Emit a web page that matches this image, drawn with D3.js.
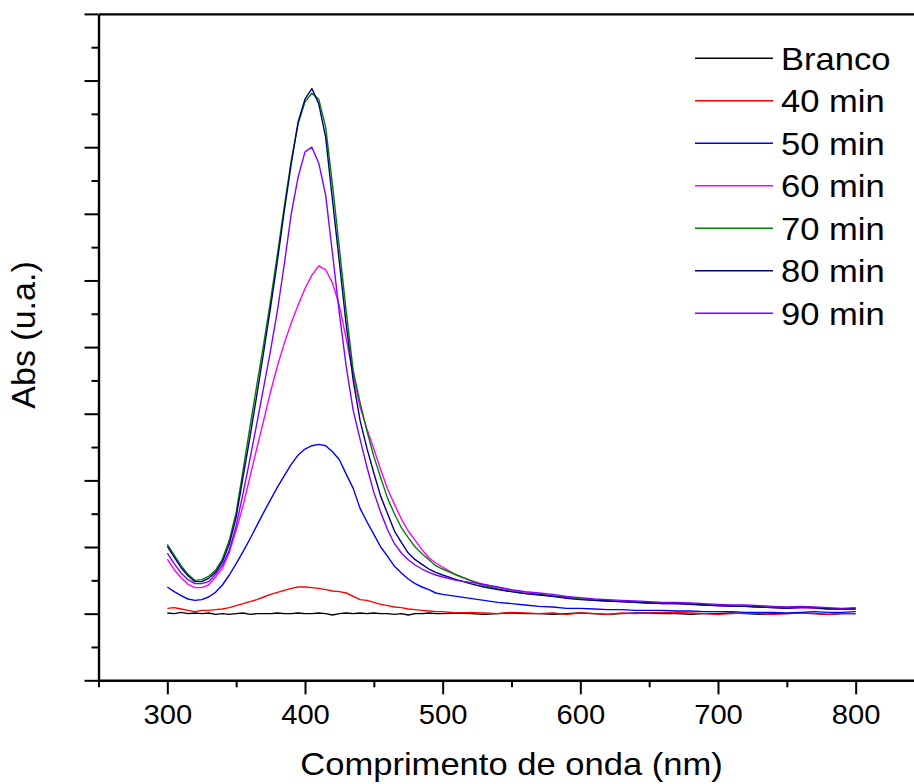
<!DOCTYPE html>
<html>
<head>
<meta charset="utf-8">
<script src="https://cdn.jsdelivr.net/npm/d3@7"></script>
<style>
  html, body { margin: 0; padding: 0; background: #fff; overflow: hidden; }
  svg { display: block; }
</style>
</head>
<body>
<svg id="chart" width="914" height="784"></svg>
<script>
// Wavelength grid (nm): 5 nm steps over the band, 10 nm steps in the flat tail
const wavelengths = [
  300,305,310,315,320,325,330,335,340,345,350,355,360,365,370,375,380,385,390,395,
  400,405,410,415,420,425,430,435,440,445,450,455,460,465,470,475,480,485,490,495,500,
  510,520,530,540,550,560,570,580,590,600,610,620,630,640,650,660,670,680,690,700,
  710,720,730,740,750,760,770,780,790,800
];

// Absorbance of each sample (arbitrary units)
const branco = [
  0.001,0.000,0.002,0.000,0.001,0.000,0.001,-0.001,0.000,-0.001,0.000,0.001,-0.001,0.000,0.000,0.000,0.001,0.000,0.000,0.001,
  0.000,0.000,0.001,0.000,-0.002,0.000,0.001,0.000,0.001,0.000,0.001,0.000,0.000,-0.001,0.000,-0.002,0.000,0.000,0.001,0.000,0.000,
  0.001,0.000,-0.001,0.000,0.001,0.000,0.000,-0.001,0.000,0.001,0.000,-0.001,0.000,0.001,0.001,0.000,0.000,-0.001,0.000,0.000,
  0.001,0.000,-0.001,0.000,0.000,0.001,0.000,-0.001,0.000,0.000
];
const min40 = [
  0.008,0.009,0.007,0.005,0.003,0.005,0.005,0.006,0.007,0.009,0.012,0.015,0.018,0.021,0.025,0.029,0.032,0.035,0.038,0.040,
  0.040,0.039,0.038,0.036,0.034,0.033,0.031,0.026,0.021,0.020,0.017,0.014,0.012,0.010,0.009,0.007,0.006,0.005,0.004,0.003,0.003,
  0.001,0.002,0.001,0.000,0.002,0.001,0.000,0.001,-0.001,0.001,0.000,-0.001,0.001,0.000,0.001,0.002,0.002,0.001,0.000,-0.001,
  0.000,0.001,0.000,-0.001,0.000,0.001,0.000,-0.001,0.000,0.000
];
const min50 = [
  0.040,0.033,0.027,0.022,0.020,0.021,0.025,0.032,0.043,0.058,0.075,0.093,0.112,0.132,0.152,0.171,0.190,0.207,0.224,0.238,
  0.247,0.252,0.254,0.252,0.243,0.231,0.209,0.188,0.158,0.138,0.119,0.100,0.086,0.071,0.061,0.052,0.045,0.040,0.036,0.031,0.029,
  0.026,0.023,0.020,0.017,0.015,0.013,0.011,0.010,0.008,0.008,0.007,0.006,0.006,0.005,0.005,0.005,0.004,0.004,0.003,0.003,
  0.003,0.002,0.002,0.002,0.001,0.002,0.003,0.002,0.002,0.003
];
const min60 = [
  0.082,0.066,0.054,0.044,0.039,0.039,0.043,0.055,0.068,0.092,0.125,0.162,0.205,0.248,0.290,0.333,0.372,0.406,0.436,0.463,
  0.488,0.508,0.522,0.516,0.496,0.462,0.412,0.358,0.310,0.277,0.247,0.216,0.187,0.164,0.142,0.124,0.110,0.096,0.084,0.076,0.070,
  0.058,0.050,0.044,0.039,0.035,0.032,0.029,0.027,0.025,0.022,0.021,0.019,0.018,0.017,0.016,0.015,0.015,0.014,0.013,0.012,
  0.011,0.011,0.010,0.009,0.008,0.009,0.008,0.007,0.007,0.007
];
const min70 = [
  0.104,0.088,0.072,0.059,0.050,0.051,0.056,0.065,0.082,0.110,0.152,0.215,0.280,0.343,0.405,0.470,0.540,0.612,0.680,0.735,
  0.768,0.781,0.772,0.730,0.643,0.548,0.452,0.365,0.317,0.274,0.236,0.204,0.173,0.150,0.129,0.114,0.100,0.090,0.081,0.072,0.067,
  0.058,0.050,0.042,0.037,0.033,0.030,0.029,0.026,0.024,0.022,0.020,0.019,0.018,0.017,0.016,0.016,0.015,0.015,0.013,0.012,
  0.012,0.011,0.010,0.009,0.009,0.010,0.009,0.008,0.007,0.008
];
const min80 = [
  0.101,0.085,0.069,0.057,0.048,0.048,0.053,0.062,0.078,0.104,0.145,0.205,0.265,0.328,0.393,0.460,0.530,0.605,0.675,0.738,
  0.772,0.788,0.765,0.715,0.620,0.527,0.432,0.350,0.290,0.248,0.211,0.176,0.150,0.124,0.107,0.091,0.081,0.074,0.067,0.062,0.058,
  0.051,0.045,0.040,0.036,0.033,0.030,0.028,0.026,0.023,0.021,0.020,0.019,0.018,0.017,0.016,0.015,0.015,0.014,0.013,0.012,
  0.011,0.011,0.010,0.009,0.008,0.009,0.009,0.007,0.007,0.007
];
const min90 = [
  0.091,0.075,0.061,0.051,0.045,0.045,0.048,0.059,0.073,0.095,0.132,0.180,0.232,0.285,0.340,0.395,0.455,0.525,0.600,0.655,
  0.693,0.700,0.676,0.628,0.540,0.450,0.370,0.305,0.262,0.220,0.182,0.152,0.126,0.105,0.091,0.081,0.073,0.067,0.062,0.058,0.055,
  0.050,0.047,0.044,0.040,0.036,0.033,0.031,0.029,0.026,0.024,0.022,0.021,0.020,0.019,0.018,0.017,0.017,0.016,0.015,0.014,
  0.013,0.013,0.012,0.011,0.010,0.011,0.010,0.009,0.008,0.009
];

const seriesNames  = ["Branco", "40 min", "50 min", "60 min", "70 min", "80 min", "90 min"];
const seriesValues = [branco, min40, min50, min60, min70, min80, min90];
const seriesColors = ["#000000", "#ff0000", "#0000ff", "#ff00ff", "#008000", "#000080", "#8000ff"];

// Axis ticks
const xMajorTicks = [300, 400, 500, 600, 700, 800];
const xMinorTicks = [250, 350, 450, 550, 650, 750, 850];
const yMajorTicks = [-0.1, 0, 0.1, 0.2, 0.3, 0.4, 0.5, 0.6, 0.7, 0.8, 0.9];
const yMinorTicks = [-0.05, 0.05, 0.15, 0.25, 0.35, 0.45, 0.55, 0.65, 0.75, 0.85];

const xTitle = "Comprimento de onda (nm)";
const yTitle = "Abs (u.a.)";

// ---- layout ----
const FONT = "'Liberation Sans', Arial, Helvetica, sans-serif";
const WIDEN = 1.08;   // slightly wide lettering

const x = d3.scaleLinear().domain([250, 850]).range([98.5, 924.5]);
const y = d3.scaleLinear().domain([-0.1, 0.9]).range([680.3, 13.9]);

const svg = d3.select("#chart");
svg.append("rect").attr("width", 914).attr("height", 784).attr("fill", "#fff");

function styleAxis(g, domainWidth) {
  g.selectAll(".tick line").attr("stroke", "#000").attr("stroke-width", 2);
  g.select(".domain").attr("stroke", "#000").attr("stroke-width", domainWidth);
}

// Left axis: major and minor ticks, no labels
const gyMajor = svg.append("g")
  .attr("transform", `translate(${x(250)},0)`)
  .call(d3.axisLeft(y).tickValues(yMajorTicks).tickSize(14).tickSizeOuter(0).tickFormat(""));
styleAxis(gyMajor, 2.4);
const gyMinor = svg.append("g")
  .attr("transform", `translate(${x(250)},0)`)
  .call(d3.axisLeft(y).tickValues(yMinorTicks).tickSize(7).tickSizeOuter(0).tickFormat(""));
gyMinor.select(".domain").remove();
styleAxis(gyMinor, 0);

// Top border
const gTop = svg.append("g")
  .attr("transform", `translate(0,${y(0.9)})`)
  .call(d3.axisTop(x).tickValues([]).tickSizeOuter(0));
styleAxis(gTop, 2.4);

// Bottom axis
const gxMajor = svg.append("g")
  .attr("transform", `translate(0,${y(-0.1)})`)
  .call(d3.axisBottom(x).tickValues(xMajorTicks).tickSize(14).tickSizeOuter(0).tickFormat(d3.format("d")));
styleAxis(gxMajor, 2.4);
gxMajor.selectAll(".tick text")
  .attr("y", 724 - y(-0.1))
  .attr("dy", null)
  .attr("transform", `scale(${WIDEN},1)`)
  .attr("fill", "#000")
  .style("font-family", FONT)
  .style("font-size", "27px");
const gxMinor = svg.append("g")
  .attr("transform", `translate(0,${y(-0.1)})`)
  .call(d3.axisBottom(x).tickValues(xMinorTicks).tickSize(7).tickSizeOuter(0).tickFormat(""));
gxMinor.select(".domain").remove();
styleAxis(gxMinor, 0);

// Spectra
const line = d3.line()
  .x((d, i) => x(wavelengths[i]))
  .y(d => y(d));

svg.append("g").selectAll("path")
  .data(seriesValues)
  .join("path")
  .attr("d", line)
  .attr("fill", "none")
  .attr("stroke", (d, i) => seriesColors[i])
  .attr("stroke-width", 1.4)
  .attr("stroke-linejoin", "round");

// Legend
const legend = svg.append("g");
const rowY = i => 58.3 + i * 42.5;
seriesNames.forEach((name, i) => {
  legend.append("line")
    .attr("x1", 695).attr("x2", 773)
    .attr("y1", rowY(i)).attr("y2", rowY(i))
    .attr("stroke", seriesColors[i])
    .attr("stroke-width", 1.5);
  legend.append("text")
    .attr("transform", `translate(781,${rowY(i) + 11.6}) scale(${WIDEN},1)`)
    .attr("fill", "#000")
    .style("font-family", FONT)
    .style("font-size", "32px")
    .text(name);
});

// Axis titles
svg.append("text")
  .attr("transform", `translate(${(x(250) + x(850)) / 2},775) scale(${WIDEN},1)`)
  .attr("text-anchor", "middle")
  .attr("fill", "#000")
  .style("font-family", FONT)
  .style("font-size", "32px")
  .text(xTitle);

svg.append("text")
  .attr("transform", "translate(35,335) rotate(-90)")
  .attr("text-anchor", "middle")
  .attr("fill", "#000")
  .style("font-family", FONT)
  .style("font-size", "34px")
  .text(yTitle);
</script>
</body>
</html>
